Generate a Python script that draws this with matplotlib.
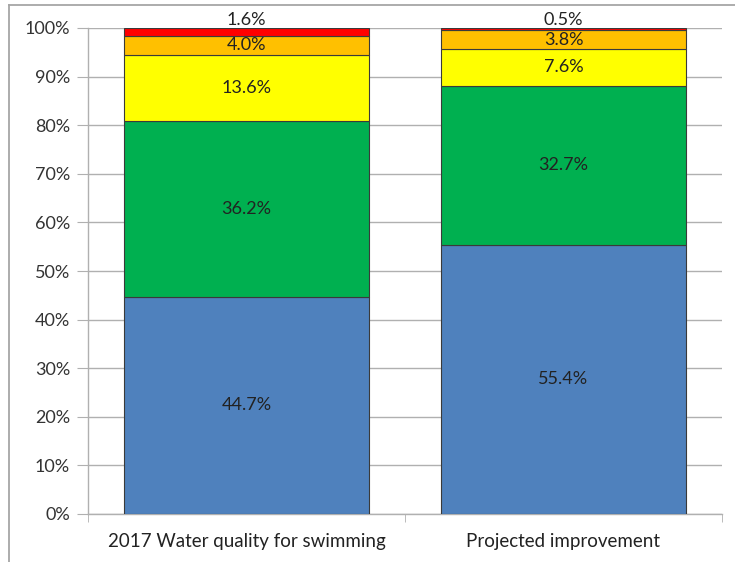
import matplotlib
matplotlib.use("Agg")
import matplotlib.pyplot as plt
from matplotlib.lines import Line2D
import numpy as np

categories = ["2017 Water quality for swimming", "Projected improvement"]
blue = [44.7, 55.4]
green = [36.2, 32.7]
yellow = [13.6, 7.6]
orange = [4.0, 3.8]
red = [1.6, 0.5]
series = [blue, green, yellow, orange, red]
colors = ["#4F81BD", "#00B050", "#FFFF00", "#FFC000", "#FF0000"]

plt.rcParams['font.family'] = ['Lato', 'DejaVu Sans']

fig = plt.figure(figsize=(7.35, 5.62), dpi=100)
W, H = 735, 562
ax = fig.add_axes([88 / W, 1 - 514 / H, (722 - 88) / W, (514 - 28) / H])

# figure border (partial, left & top visible)
fig.lines.append(Line2D([8.5 / W, 8.5 / W], [0, 1 - 4.5 / H], transform=fig.transFigure,
                        color="#A6A6A6", linewidth=1.3))
fig.lines.append(Line2D([8.5 / W, 1], [1 - 4.5 / H, 1 - 4.5 / H], transform=fig.transFigure,
                        color="#A6A6A6", linewidth=1.3))

data = np.array(series, dtype=float)
totals = data.sum(axis=0)
pct = data / totals * 100
x = np.arange(len(categories))
bottom = np.zeros(len(categories))
for k, (vals, p, c) in enumerate(zip(series, pct, colors)):
    ax.bar(x, p, bottom=bottom, width=0.77, color=c, edgecolor="#3A3A3A", linewidth=0.8, zorder=3)
    for xi, v, pi, b in zip(x, vals, p, bottom):
        ypos = b + pi / 2
        if k == len(series) - 1:
            ypos = 101.6  # smallest top segment: label sits above the bar
        ax.text(xi, ypos, f"{v:.1f}%", ha="center", va="center", fontsize=13,
                color="#222222", zorder=4, clip_on=False)
    bottom += p

ax.set_xlim(-0.5, 1.5)
ax.set_ylim(0, 100)
ax.set_yticks(np.arange(0, 101, 10))
ax.set_yticklabels([f"{v}%" for v in range(0, 101, 10)], fontsize=13, color="#333333")
ax.yaxis.grid(True, color="#B0B0B0", linewidth=1, zorder=0)
ax.set_xticks(x)
ax.set_xticklabels(categories, fontsize=13.5, color="#222222")
ax.tick_params(axis="x", length=0, pad=14)
ax.tick_params(axis="y", length=8, color="#B0B0B0", pad=5)
ax.set_xticks([-0.5, 0.5, 1.5], minor=True)
ax.tick_params(axis="x", which="minor", length=6, color="#B0B0B0")
for s in ["top", "right"]:
    ax.spines[s].set_visible(False)
for s in ["left", "bottom"]:
    ax.spines[s].set_color("#B0B0B0")
    ax.spines[s].set_linewidth(1)

fig.savefig("out.png", dpi=100)
